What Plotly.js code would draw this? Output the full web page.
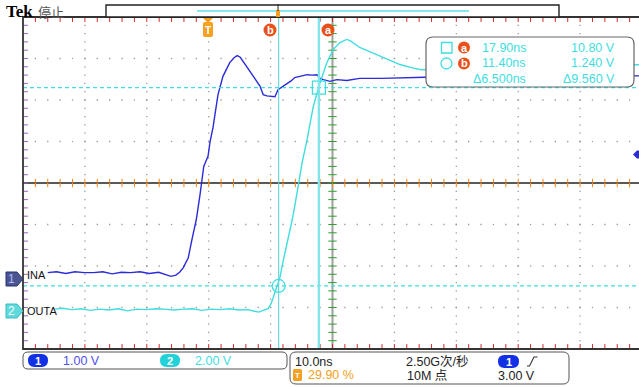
<!DOCTYPE html>
<html><head><meta charset="utf-8">
<script src="https://cdn.plot.ly/plotly-3.0.1.min.js"></script>
<style>html,body{margin:0;padding:0;overflow:hidden;background:#fff}#plot{width:642px;height:387px}</style>
</head><body><div id="plot"></div>
<script>
// ---- data (time in ns relative to trigger, volts) ----
const tCh1 = [-25.9,-24.5,-23.0,-21.5,-20.0,-18.5,-17.0,-15.5,-14.0,-12.5,-11.0,-9.5,-8.0,-7.0,-6.0,-5.2,-4.6,-4.0,-3.2,-2.6,-1.9,-1.3,-0.7,0.0,0.3,0.8,1.6,2.4,3.5,4.2,4.7,5.2,6.4,7.4,8.4,8.9,9.5,10.2,10.8,11.3,12.0,12.7,13.4,14.0,15.0,16.0,16.8,17.6,18.1,18.6,19.7,20.8,22.4,24.5,28.0,31.0,35.0,40.0,47.0,54.0,63.0,69.9];
const vCh1 = [0.14,0.16,0.12,0.16,0.14,0.14,0.16,0.11,0.15,0.14,0.16,0.12,0.15,0.10,0.05,0.08,0.15,0.26,0.50,0.94,1.42,2.02,2.70,2.95,3.28,3.64,4.43,4.87,5.20,5.32,5.37,5.33,5.08,4.85,4.63,4.43,4.40,4.38,4.38,4.55,4.62,4.67,4.76,4.84,4.88,4.91,4.90,4.91,4.82,4.79,4.75,4.79,4.77,4.82,4.82,4.84,4.85,4.86,4.87,4.89,4.89,4.88];
const tCh2 = [-24.7,-23.5,-22.0,-20.5,-19.0,-17.5,-16.0,-14.5,-13.0,-11.5,-10.0,-8.5,-7.0,-5.5,-4.0,-2.5,-1.0,0.5,2.0,3.5,5.0,6.5,7.5,8.2,8.9,9.7,10.2,10.8,11.6,12.1,12.6,13.6,14.0,14.5,15.2,16.0,17.0,18.1,19.2,20.2,21.3,22.4,23.0,24.5,26.0,27.8,29.5,31.0,33.0,34.2,40.0,50.0,60.0,69.9];
const vCh2 = [0.12,0.16,0.10,0.14,0.06,0.12,0.08,0.14,0.04,0.12,0.10,0.14,0.12,0.08,0.12,0.14,0.06,0.12,0.10,0.14,0.08,0.10,0.02,-0.02,0.06,0.14,0.40,0.92,1.64,2.40,3.05,4.44,5.07,5.95,7.19,8.30,9.89,11.04,12.01,12.63,12.97,13.12,13.05,12.73,12.55,12.30,12.10,11.91,11.75,11.67,11.60,11.75,11.85,11.90];
const cursorT = [17.90, 11.40];     // a, b (ns)
const cursorV = [10.80, 1.240];     // a, b (V, ch2)
const channelNames = ['INA', 'OUTA'];
const voltsPerDiv = [1.00, 2.00];
const groundDiv = [-2.30, -3.10];
const nsPerDiv = 10.0;
const triggerPct = 29.90;
const triggerLevel = 3.00;
const sampleRate = '2.50G次/秒';
const recordLen = '10M 点';

// ---- scope geometry ----
const X0 = -triggerPct/100*10*nsPerDiv, X1 = X0 + 10*nsPerDiv;
const L=23, T=17, W=619, H=332;
const px = x => (x-L)/W, py = y => (T+H-y)/H;
const toDiv = (v,ch) => v/voltsPerDiv[ch] + groundDiv[ch];
const P = (x,y) => px(x)+','+py(y);
function rr(x0,y0,x1,y1,r){
  return `M${P(x0+r,y0)} L${P(x1-r,y0)} Q${P(x1,y0)} ${P(x1,y0+r)} L${P(x1,y1-r)} Q${P(x1,y1)} ${P(x1-r,y1)} L${P(x0+r,y1)} Q${P(x0,y1)} ${P(x0,y1-r)} L${P(x0,y0+r)} Q${P(x0,y0)} ${P(x0+r,y0)} Z`;
}
function poly(pts){ return 'M' + pts.map(p=>P(p[0],p[1])).join(' L') + ' Z'; }

const BLUE='#2b2bd9', CYAN='#3fdde0', ORANGE='#f4a020', RED='#e8501c';
const FONT='Liberation Sans, Arial, sans-serif';

// graticule
const gx=[], gy=[];
for(let i=1;i<=9;i++){ if(i===5) continue; for(let k=1;k<40;k++){ gx.push(X0+nsPerDiv*i); gy.push(-4+0.2*k); } }
for(let j=1;j<=7;j++){ if(j===4) continue; for(let k=1;k<50;k++){ gx.push(X0+nsPerDiv/5*k); gy.push(-4+j); } }
const hx=[], hy=[], vx=[], vy=[];
for(let k=1;k<50;k++){ hx.push(X0+nsPerDiv/5*k); hy.push(0); }
for(let k=1;k<40;k++){ vy.push(-4+0.2*k); vx.push(X0+5*nsPerDiv); }
const btx=[], bty=[];
for(let k=1;k<50;k++){ btx.push(X0+nsPerDiv/5*k); bty.push(4); btx.push(X0+nsPerDiv/5*k); bty.push(-4); }
const blx=[], bly=[];
for(let k=1;k<40;k++){ blx.push(X0); bly.push(-4+0.2*k); }

const traces = [
  {x:gx, y:gy, mode:'markers', marker:{symbol:'square', size:1.3, color:'#9a9a9a', line:{width:0}}, hoverinfo:'skip'},
  {x:hx, y:hy, mode:'markers', marker:{symbol:'line-ns-open', size:6, line:{width:1, color:'#555'}}, hoverinfo:'skip'},
  {x:vx, y:vy, mode:'markers', marker:{symbol:'line-ew-open', size:6, line:{width:1, color:'#555'}}, hoverinfo:'skip'},
  {x:btx, y:bty, mode:'markers', marker:{symbol:'line-ns-open', size:7, line:{width:1, color:'#555'}}, hoverinfo:'skip'},
  {x:blx, y:bly, mode:'markers', marker:{symbol:'line-ew-open', size:7, line:{width:1, color:'#555'}}, hoverinfo:'skip'},
  {x:tCh1, y:vCh1.map(v=>toDiv(v,0)), mode:'lines', line:{color:BLUE, width:1.4}},
  {x:tCh2, y:vCh2.map(v=>toDiv(v,1)), mode:'lines', line:{color:CYAN, width:1.4}},
  {x:[cursorT[0]], y:[toDiv(cursorV[0],1)], mode:'markers', cliponaxis:false, marker:{symbol:'square-open', size:13, line:{width:1.2, color:CYAN}, color:CYAN}},
  {x:[cursorT[1]], y:[toDiv(cursorV[1],1)], mode:'markers', cliponaxis:false, marker:{symbol:'circle-open', size:13, line:{width:1.2, color:CYAN}, color:CYAN}}
];

const shapes = [
  // centre lines
  {type:'line', xref:'x', yref:'paper', x0:X0+5*nsPerDiv, x1:X0+5*nsPerDiv, y0:0, y1:1, line:{color:'#a0a0a0', width:2}, layer:'below'},
  {type:'line', xref:'paper', yref:'y', x0:0, x1:1, y0:0, y1:0, line:{color:'#222', width:1.5}, layer:'below'},
  // cursors
  {type:'line', xref:'paper', yref:'y', x0:0, x1:1, y0:toDiv(cursorV[0],1), y1:toDiv(cursorV[0],1), line:{color:CYAN, width:1.2, dash:'4px,3px'}},
  {type:'line', xref:'paper', yref:'y', x0:0, x1:1, y0:toDiv(cursorV[1],1), y1:toDiv(cursorV[1],1), line:{color:CYAN, width:1.2, dash:'4px,3px'}},
  {type:'line', xref:'x', yref:'paper', x0:cursorT[0], x1:cursorT[0], y0:0, y1:1, line:{color:'#7fe5ea', width:2.4}},
  {type:'line', xref:'x', yref:'paper', x0:cursorT[1], x1:cursorT[1], y0:0, y1:1, line:{color:'#62d3da', width:1.1}},
  // border
  {type:'rect', xref:'paper', yref:'paper', x0:0, x1:1, y0:0, y1:1, line:{color:'#333', width:1.8}},
  // top record bar
  {type:'rect', xref:'paper', yref:'paper', x0:px(106), x1:px(559), y0:py(17), y1:py(5), fillcolor:'#fff', line:{color:'#222', width:1.4}},
  {type:'line', xref:'paper', yref:'paper', x0:px(197), x1:px(469), y0:py(11), y1:py(11), line:{color:'#5fe0e4', width:1.5}},
  {type:'rect', xref:'paper', yref:'paper', x0:px(276), x1:px(280), y0:py(17), y1:py(10), fillcolor:ORANGE, line:{width:0}},
  {type:'line', xref:'paper', yref:'paper', x0:px(278), x1:px(278), y0:py(4), y1:py(11), line:{color:'#222', width:1}},
  // trigger marker T
  {type:'path', xref:'paper', yref:'paper', path:poly([[203,18],[213,18],[208,23]]), fillcolor:ORANGE, line:{width:0}},
  {type:'path', xref:'paper', yref:'paper', path:rr(203,22,213,37,2), fillcolor:ORANGE, line:{width:0}},
  // cursor a/b labels
  {type:'circle', xref:'paper', yref:'paper', x0:px(263.5), x1:px(276.5), y0:py(36.5), y1:py(23.5), fillcolor:RED, line:{width:0}},
  {type:'circle', xref:'paper', yref:'paper', x0:px(321.5), x1:px(334.5), y0:py(36.5), y1:py(23.5), fillcolor:RED, line:{width:0}},
  // readout box
  {type:'path', xref:'paper', yref:'paper', path:rr(426,37,634,87,7), fillcolor:'#fff', line:{color:'#666', width:1.2}},
  {type:'rect', xref:'paper', yref:'paper', x0:px(441.5), x1:px(452), y0:py(53), y1:py(42.5), line:{color:CYAN, width:1.3}},
  {type:'circle', xref:'paper', yref:'paper', x0:px(441), x1:px(452), y0:py(69), y1:py(58), line:{color:CYAN, width:1.3}},
  {type:'circle', xref:'paper', yref:'paper', x0:px(458), x1:px(470), y0:py(53.5), y1:py(41.5), fillcolor:RED, line:{width:0}},
  {type:'circle', xref:'paper', yref:'paper', x0:px(458), x1:px(470), y0:py(69.5), y1:py(57.5), fillcolor:RED, line:{width:0}},
  // channel ground markers
  {type:'path', xref:'paper', yref:'paper', path:poly([[6,272],[17,272],[23,279],[17,286],[6,286]]), fillcolor:'#4a5592', line:{color:'#2b3370', width:1}},
  {type:'path', xref:'paper', yref:'paper', path:poly([[6,304],[17,304],[23,311],[17,318],[6,318]]), fillcolor:'#5fd9dc', line:{color:'#3bbcc0', width:1}},
  // trigger level arrow
  {type:'path', xref:'paper', yref:'paper', path:poly([[633,154.5],[637,150.5],[642,150.5],[642,158.5],[637,158.5]]), fillcolor:BLUE, line:{width:0}},
  // bottom boxes
  {type:'path', xref:'paper', yref:'paper', path:rr(23,352,287,369,5), fillcolor:'#fff', line:{color:'#555', width:1}},
  {type:'path', xref:'paper', yref:'paper', path:rr(28,354,48,367,6.5), fillcolor:'#1230e6', line:{width:0}},
  {type:'path', xref:'paper', yref:'paper', path:rr(160,354,180,367,6.5), fillcolor:'#22d2d8', line:{width:0}},
  {type:'path', xref:'paper', yref:'paper', path:rr(290,352,569,384,6), fillcolor:'#fff', line:{color:'#555', width:1}},
  {type:'path', xref:'paper', yref:'paper', path:rr(293,369,302,381,1.5), fillcolor:ORANGE, line:{width:0}},
  {type:'path', xref:'paper', yref:'paper', path:rr(498,355,519,368,6.5), fillcolor:'#1230e6', line:{width:0}},
  {type:'path', xref:'paper', yref:'paper', path:`M${P(527,366)} L${P(529.5,366)} L${P(534,357)} L${P(537.5,357)}`, line:{color:'#333', width:1.1}}
];

function A(x,y,text,color,size,anchor,extra){
  return Object.assign({xref:'paper', yref:'paper', x:px(x), y:py(y), text:text, showarrow:false,
    xanchor:anchor||'left', yanchor:'middle', font:{family:FONT, size:size||12, color:color||'#222'}}, extra||{});
}
const fmtT = v => v.toFixed(2)+'ns';
const annotations = [
  A(4,11.5,'<b>Tek</b>','#000',17,'left',{font:{family:'Liberation Serif, serif', size:17, color:'#000'}}),
  A(36,11.5,'停止','#555',13,'left',{font:{family:'Noto Sans CJK SC', size:13, color:'#555'}}),
  A(208,30,'<b>T</b>','#fff',10,'center'),
  A(270,30,'<b>b</b>','#fff',11,'center'),
  A(328,30,'<b>a</b>','#fff',11,'center'),
  A(464,47.5,'<b>a</b>','#fff',11,'center'),
  A(464,63.5,'<b>b</b>','#fff',11,'center'),
  A(528,47.5,fmtT(cursorT[0]),CYAN,12.5,'right'),
  A(528,63.5,fmtT(cursorT[1]),CYAN,12.5,'right'),
  A(528,79,'Δ'+(cursorT[0]-cursorT[1]).toFixed(3)+'ns',CYAN,12.5,'right'),
  A(617,47.5,cursorV[0].toFixed(2)+' V',CYAN,12.5,'right'),
  A(617,63.5,cursorV[1].toFixed(3)+' V',CYAN,12.5,'right'),
  A(617,79,'Δ'+(cursorV[0]-cursorV[1]).toFixed(3)+' V',CYAN,12.5,'right'),
  A(25,275,channelNames[0],'#111',11,'left'),
  A(25,311,channelNames[1],'#111',11,'left'),
  A(12,279,'1','#b0bdff',12,'center'),
  A(12,311,'2','#f4ffff',12,'center'),
  A(38,360.5,'<b>1</b>','#fff',11,'center'),
  A(61,361,voltsPerDiv[0].toFixed(2)+' V','#4f4ff0',12.5,'left'),
  A(170,360.5,'<b>2</b>','#fff',11,'center'),
  A(193,361,voltsPerDiv[1].toFixed(2)+' V',CYAN,12.5,'left'),
  A(293,361.5,nsPerDiv.toFixed(1)+'ns','#222',12.5,'left'),
  A(297.5,375,'<b>T</b>','#fff',8,'center'),
  A(306,375.5,triggerPct.toFixed(2)+' %',ORANGE,12.5,'left'),
  A(404,361.5,sampleRate,'#222',12.5,'left',{font:{family:'Liberation Sans, Noto Sans CJK SC', size:12.5, color:'#222'}}),
  A(405,376,recordLen,'#222',12.5,'left',{font:{family:'Liberation Sans, Noto Sans CJK SC', size:12.5, color:'#222'}}),
  A(508.5,361.5,'<b>1</b>','#fff',11,'center'),
  A(537,376,triggerLevel.toFixed(2)+' V','#222',12.5,'right')
];

const layout = {
  width:642, height:387, margin:{l:L, r:0, t:T, b:387-T-H}, showlegend:false,
  paper_bgcolor:'#fff', plot_bgcolor:'#fff',
  xaxis:{range:[X0,X1], showgrid:false, zeroline:false, showticklabels:false, ticks:'', showline:false, fixedrange:true},
  yaxis:{range:[-4,4], showgrid:false, zeroline:false, showticklabels:false, ticks:'', showline:false, fixedrange:true},
  shapes:shapes, annotations:annotations
};
Plotly.newPlot('plot', traces, layout, {staticPlot:true, displayModeBar:false});
</script>
</body></html>
